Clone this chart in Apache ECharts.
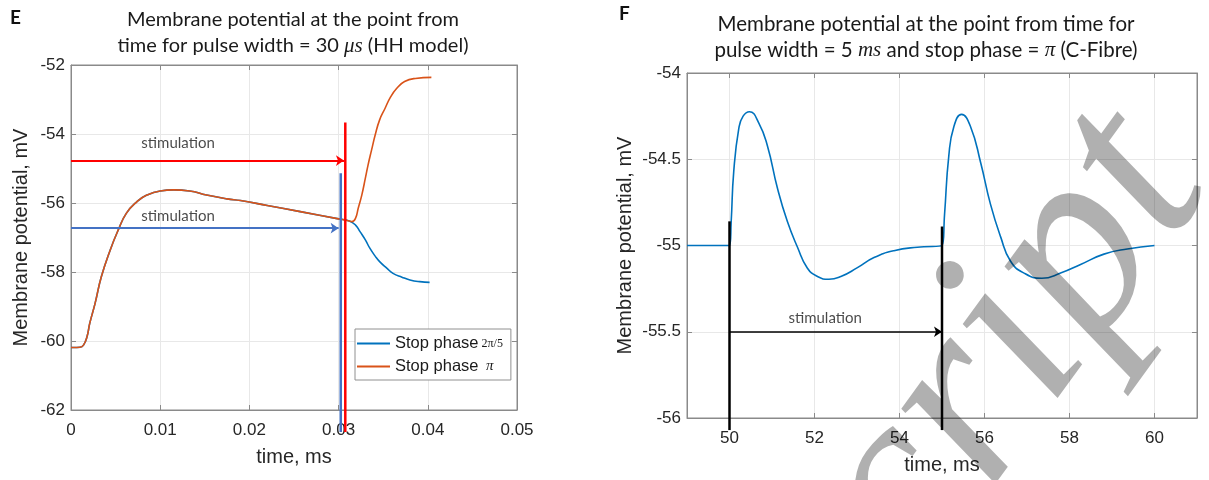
<!doctype html>
<html>
<head>
<meta charset="UTF-8">
<title>Membrane potential</title>
<script src="https://cdn.jsdelivr.net/npm/echarts@6/dist/echarts.min.js"></script>
<style>
	html, body { margin: 0; padding: 0; background: #fff; }
	#chart { width: 1209px; height: 480px; }
</style>
</head>
<body>
<div id="chart"></div>
<script type="text/javascript">
	// panel E: HH model, time in ms
	var timeE = [0, 0.0003, 0.001, 0.0014, 0.0018, 0.0021, 0.0027, 0.0034, 0.0044, 0.0053, 0.0062, 0.0074, 0.0085, 0.010, 0.0115, 0.0133, 0.0152, 0.0175, 0.019, 0.022, 0.0257, 0.030, 0.0312];
	var vmE = [-60.19, -60.19, -60.18, -60.12, -59.87, -59.49, -58.91, -58.14, -57.36, -56.78, -56.30, -55.96, -55.77, -55.65, -55.62, -55.65, -55.77, -55.88, -55.93, -56.07, -56.25, -56.46, -56.52];
	var timePiTail = [0.0315, 0.0319, 0.0322, 0.0326, 0.033, 0.0333, 0.0337, 0.0341, 0.0346, 0.0352, 0.0358, 0.0365, 0.0374, 0.0386, 0.0404];
	var vmPiTail = [-56.54, -56.44, -56.15, -55.77, -55.28, -54.9, -54.46, -54.03, -53.59, -53.26, -52.94, -52.68, -52.48, -52.39, -52.36];
	var time2pi5Tail = [0.0319, 0.0324, 0.033, 0.0335, 0.0341, 0.0346, 0.0354, 0.0361, 0.0371, 0.038, 0.0391, 0.0402];
	var vm2pi5Tail = [-56.64, -56.83, -57.07, -57.31, -57.54, -57.7, -57.89, -58.04, -58.15, -58.23, -58.28, -58.3];
	var ticksXE = [0, 0.05, 0.01];
	var ticksYE = [-62, -52, 2];

	// stimulation marks in E: [x, y] pairs
	var redArrowE = [[0, -54.77], [0.0306, -54.77]];
	var redStopE = [[0.03075, -53.67], [0.03075, -62.64]];
	var blueArrowE = [[0, -56.73], [0.0300, -56.73]];
	var blueStopE = [[0.03024, -55.14], [0.03024, -62.64]];
	var stimLabelsE = [[0.012, -54.26], [0.012, -56.37]];

	// panel F: C-fibre
	var timeF = [49, 50, 50.04, 50.1, 50.22, 50.32, 50.47, 50.69, 50.89, 51.13, 51.36, 51.6, 51.83, 52.07, 52.34, 52.62, 53.0, 53.4, 53.87, 54.42, 55,
		55.06, 55.16, 55.28, 55.46, 55.67, 55.91, 56.14, 56.38, 56.61, 56.93, 57.35, 57.79, 58.26, 58.81, 59.36, 60];
	var vmF = [-55, -55, -54.86, -54.57, -54.32, -54.25, -54.225, -54.29, -54.42, -54.67, -54.86, -55.01, -55.13, -55.18, -55.196, -55.18, -55.13, -55.07, -55.03, -55.01, -55.0,
		-54.82, -54.48, -54.31, -54.24, -54.31, -54.52, -54.76, -54.95, -55.09, -55.16, -55.19, -55.16, -55.11, -55.05, -55.02, -55.0];
	var rangeXF = [49, 61];
	var ticksXF = [50, 52, 54, 56, 58, 60];
	var ticksYF = [-56, -54, 0.5];
	var stopLine50 = [[50, -54.86], [50, -56.07]];
	var stopLine55 = [[55, -54.89], [55, -56.07]];
	var arrowF = [[50, -55.5], [55, -55.5]];
	var stimLabelF = [[52.25, -55.42]];

	function zip(a, b) {
		var out = [];
		for (var i = 0; i < a.length; i++) out.push([a[i], b[i]]);
		return out;
	}

	var frame = '#8a8a8a';
	var tickFont = { color: '#262626', fontFamily: 'Liberation Sans', fontSize: 17 };
	var nameFont = { color: '#262626', fontFamily: 'Liberation Sans', fontSize: 20 };

	function axisX(grid, t, pos, showLabel, name) {
		var ax = {
			type: 'value', gridIndex: grid, position: pos,
			min: t[0], max: t[1], interval: t[2],
			axisLine: { show: true, onZero: false, lineStyle: { color: frame, width: 1 } },
			axisTick: { show: true, inside: true, length: 5, lineStyle: { color: frame } },
			axisLabel: { show: showLabel, margin: 12, textStyle: tickFont },
			splitLine: { show: showLabel, lineStyle: { color: '#e8e8e8', width: 1 } }
		};
		if (name) {
			ax.name = name; ax.nameLocation = 'middle'; ax.nameGap = 37; ax.nameTextStyle = nameFont;
		}
		return ax;
	}
	// F's time axis runs 49..61 but is labelled on even values
	function axisXF(pos, showLabel, name) {
		var ax = axisX(1, [rangeXF[0], rangeXF[1], null], pos, showLabel, name);
		delete ax.interval;
		ax.axisTick.customValues = ticksXF;
		ax.axisLabel.customValues = ticksXF;
		return ax;
	}
	function axisY(grid, t, pos, showLabel, name, gap) {
		var ax = {
			type: 'value', gridIndex: grid, position: pos,
			min: t[0], max: t[1], interval: t[2],
			axisLine: { show: true, onZero: false, lineStyle: { color: frame, width: 1 } },
			axisTick: { show: true, inside: true, length: 5, lineStyle: { color: frame } },
			axisLabel: { show: showLabel, margin: 6, textStyle: tickFont },
			splitLine: { show: showLabel, lineStyle: { color: '#e8e8e8', width: 1 } }
		};
		if (name) {
			ax.name = name; ax.nameLocation = 'middle'; ax.nameGap = gap; ax.nameTextStyle = nameFont;
		}
		return ax;
	}

	function segment(xi, yi, pts, color, width) {
		return {
			type: 'line', xAxisIndex: xi, yAxisIndex: yi, data: pts, symbol: 'none',
			clip: false, silent: true, z: 5,
			lineStyle: { color: color, width: width }
		};
	}
	function arrow(xi, yi, pts, color, width) {
		return {
			type: 'line', xAxisIndex: xi, yAxisIndex: yi, data: [], silent: true, z: 5,
			markLine: {
				silent: true, symbol: ['none', 'arrow'], symbolSize: 8,
				label: { show: false },
				lineStyle: { color: color, width: width, type: 'solid' },
				itemStyle: { color: color },
				data: [[{ coord: pts[0] }, { coord: pts[1] }]]
			}
		};
	}
	function stimText(xi, yi, pts) {
		return {
			type: 'scatter', xAxisIndex: xi, yAxisIndex: yi, data: pts, symbolSize: 0, silent: true, z: 6,
			label: {
				show: true, position: 'inside', formatter: 'stimulation',
				color: '#1a1a1a', fontFamily: 'Lato', fontSize: 15
			}
		};
	}

	var curvePi = zip(timeE, vmE).concat(zip(timePiTail, vmPiTail));
	var curve2pi5 = zip(timeE, vmE).concat(zip(time2pi5Tail, vm2pi5Tail));

	var option = {
		animation: false,
		backgroundColor: '#fff',
		grid: [
			{ left: 71, top: 65, width: 446, height: 345, show: true, borderColor: frame, borderWidth: 1 },
			{ left: 687, top: 73, width: 510, height: 350, show: true, borderColor: frame, borderWidth: 1 }
		],
		xAxis: [
			axisX(0, ticksXE, 'bottom', true, 'time, ms'),
			axisX(0, ticksXE, 'top', false),
			axisXF('bottom', true, 'time, ms'),
			axisXF('top', false)
		],
		yAxis: [
			axisY(0, ticksYE, 'left', true, 'Membrane potential, mV', 40),
			axisY(0, ticksYE, 'right', false),
			axisY(1, ticksYF, 'left', true, 'Membrane potential, mV', 52),
			axisY(1, ticksYF, 'right', false)
		],
		legend: {
			left: 355, top: 329, orient: 'vertical',
			data: [{ name: 'Stop phase 2pi/5', icon: 'rect' }, { name: 'Stop phase pi', icon: 'rect' }],
			itemWidth: 33, itemHeight: 2, itemGap: 6,
			padding: [6, 8, 5, 2],
			borderColor: '#909090', borderWidth: 1, backgroundColor: '#fff',
			formatter: function (name) {
				return name === 'Stop phase pi' ? '{a|Stop phase}{b|  π}' : '{a|Stop phase}{c| 2π/5}';
			},
			textStyle: {
				rich: {
					a: { fontFamily: 'Liberation Sans', fontSize: 16.5, color: '#1a1a1a' },
					b: { fontFamily: 'Liberation Serif', fontStyle: 'italic', fontSize: 15, color: '#1a1a1a' },
					c: { fontFamily: 'Liberation Serif', fontSize: 12, color: '#1a1a1a' }
				}
			}
		},
		graphic: [
			{ type: 'text', left: 10, top: 8, style: { text: 'E', font: 'bold 19px Lato', fill: '#111' } },
			{ type: 'text', left: 619, top: 4, style: { text: 'F', font: 'bold 19px Lato', fill: '#111' } },
			{
				type: 'text', x: 293, y: 7, style: {
					text: 'Membrane potential at the point from\n{n|time for pulse width = 30 }{i|μs}{n| (HH model)}',
					align: 'center', font: '20px Lato', fill: '#1a1a1a', lineHeight: 26,
					rich: {
						n: { font: '20px Lato', fill: '#1a1a1a' },
						i: { font: 'italic 21px "Liberation Serif"', fill: '#1a1a1a' }
					}
				}
			},
			{
				type: 'text', x: 926, y: 11, style: {
					text: 'Membrane potential at the point from time for\n{n|pulse width = 5 }{i|ms}{n| and stop phase = }{i|π}{n| (C-Fibre)}',
					align: 'center', font: '20.5px Lato', fill: '#1a1a1a', lineHeight: 26,
					rich: {
						n: { font: '20.5px Lato', fill: '#1a1a1a' },
						i: { font: 'italic 21px "Liberation Serif"', fill: '#1a1a1a' }
					}
				}
			},
			{
				// manuscript watermark over panel F
				type: 'text', x: 971, y: 623, rotation: 54 * Math.PI / 180, z: 100, silent: true,
				style: {
					text: 'cript', font: 'italic 262px "Liberation Serif"',
					fill: 'rgba(0,0,0,0.31)', align: 'left', verticalAlign: 'bottom'
				}
			}
		],
		series: [
			{
				name: 'Stop phase 2pi/5', type: 'line', xAxisIndex: 0, yAxisIndex: 0,
				data: curve2pi5, symbol: 'none', smooth: 0.5, z: 3,
				lineStyle: { color: '#0072BD', width: 1.6 }, itemStyle: { color: '#0072BD' }
			},
			{
				name: 'Stop phase pi', type: 'line', xAxisIndex: 0, yAxisIndex: 0,
				data: curvePi, symbol: 'none', smooth: 0.5, z: 4,
				lineStyle: { color: '#D95319', width: 1.6 }, itemStyle: { color: '#D95319' }
			},
			arrow(0, 0, redArrowE, '#ff0000', 2),
			segment(0, 0, redStopE, '#ff0000', 2.5),
			arrow(0, 0, blueArrowE, '#4472C4', 2),
			segment(0, 0, blueStopE, '#4472C4', 2.5),
			stimText(0, 0, stimLabelsE),
			{
				name: 'C-fibre', type: 'line', xAxisIndex: 2, yAxisIndex: 2,
				data: zip(timeF, vmF), symbol: 'none', smooth: 0.5, z: 3,
				lineStyle: { color: '#0072BD', width: 1.6 }
			},
			segment(2, 2, stopLine50, '#000', 2.5),
			segment(2, 2, stopLine55, '#000', 2.5),
			arrow(2, 2, arrowF, '#000', 1.5),
			stimText(2, 2, stimLabelF)
		]
	};

	var myChart = echarts.init(document.getElementById('chart'));
	myChart.setOption(option);
</script>
</body>
</html>
